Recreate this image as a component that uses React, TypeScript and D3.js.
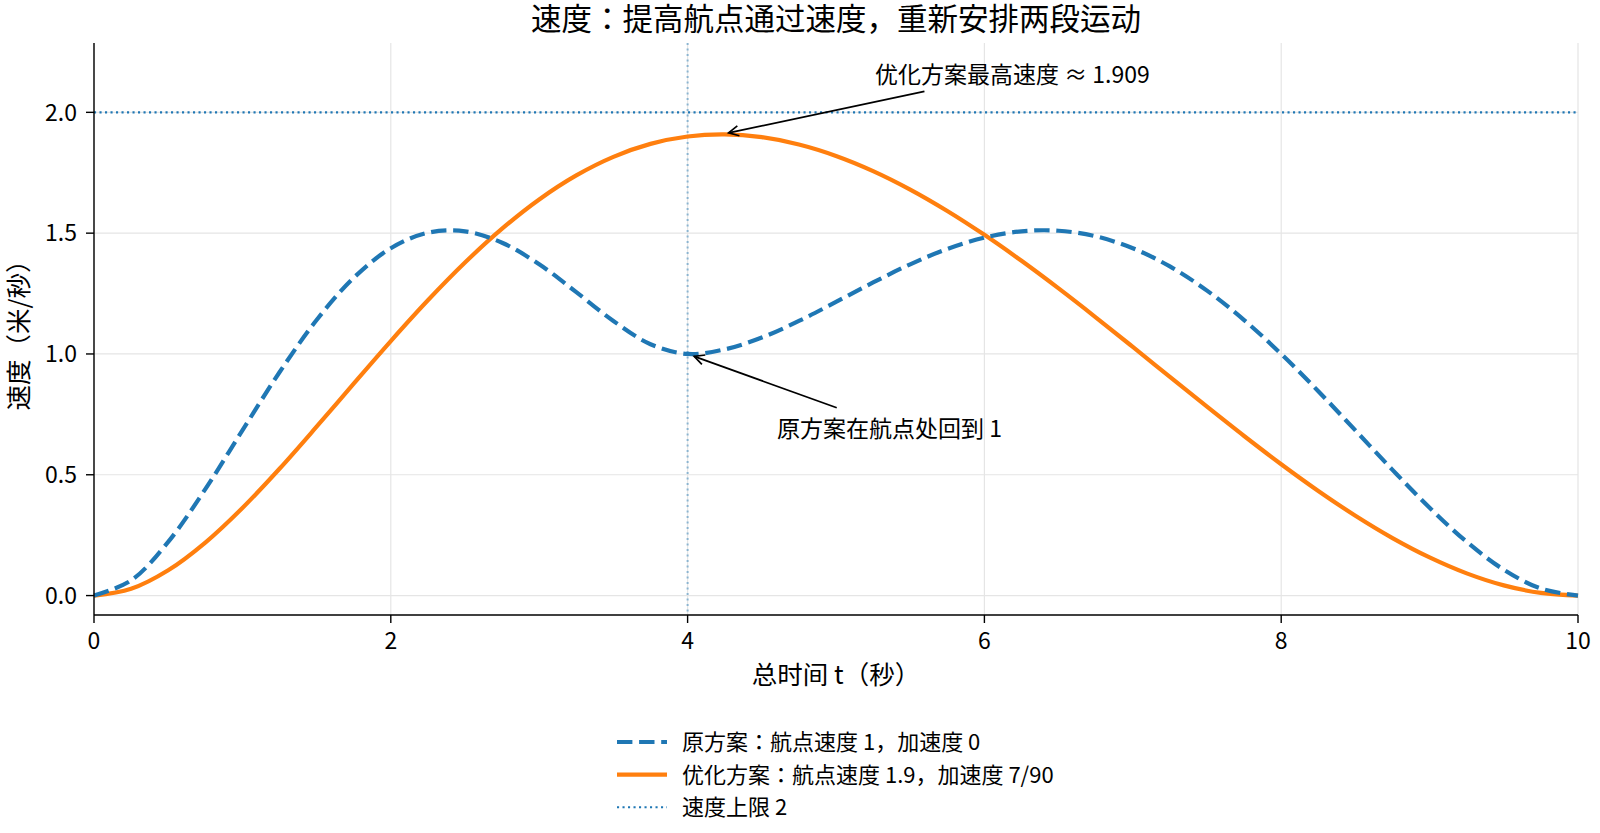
import { useEffect, useRef } from 'react'
import * as d3 from 'd3'

// sample times (s)
const times = [
  0, 0.25, 0.5, 0.75, 1, 1.25, 1.5, 1.75, 2, 2.25, 2.5, 2.75, 3, 3.25, 3.5, 3.75, 4,
  4.25, 4.5, 4.75, 5, 5.25, 5.5, 5.75, 6, 6.25, 6.5, 6.75, 7, 7.25, 7.5, 7.75, 8,
  8.25, 8.5, 8.75, 9, 9.25, 9.5, 9.75, 10,
]

// original plan: waypoint speed 1, accel 0
const originalSpeed = [
  0, 0.0627, 0.2224, 0.4404, 0.6836, 0.9243, 1.1404, 1.3152, 1.4375, 1.5017, 1.5076, 1.4604,
  1.3711, 1.2558, 1.1365, 1.0403, 1.0,
  1.0189, 1.0679, 1.1365, 1.2153, 1.2959, 1.3711, 1.4347, 1.4815, 1.5076, 1.51, 1.4869,
  1.4375, 1.3622, 1.2623, 1.1404, 1.0, 0.8458, 0.6836, 0.5202, 0.3634, 0.2224, 0.1072,
  0.029, 0,
]

// optimized plan: waypoint speed 1.9, accel 7/90
const optimizedSpeed = [
  0, 0.028, 0.1046, 0.2193, 0.3624, 0.5249, 0.699, 0.8773, 1.0535, 1.2221, 1.3784, 1.5185,
  1.6395, 1.739, 1.8158, 1.8694, 1.9,
  1.9088, 1.8972, 1.867, 1.8197, 1.757, 1.6805, 1.5919, 1.493, 1.3855, 1.2712, 1.1518,
  1.0292, 0.9052, 0.7817, 0.6605, 0.5436, 0.433, 0.3305, 0.2381, 0.158, 0.092, 0.0423,
  0.0109, 0,
]

const speedLimit = 2
const waypointTime = 4
const peakTime = 4.23
const peakSpeed = 1.909

const xTicks = [0, 2, 4, 6, 8, 10]
const yTicks = [0, 0.5, 1.0, 1.5, 2.0]

const legendLabels = [
  '原方案：航点速度 1，加速度 0',
  '优化方案：航点速度 1.9，加速度 7/90',
  '速度上限 2',
]

const W = 1600
const H = 833
const FONT = '"Noto Sans CJK JP", "Noto Sans CJK SC", sans-serif'
const BLUE = '#1f77b4'
const ORANGE = '#ff7f0e'
const DASHED = '15.4 6.7'
const DOTTED = '2.1 3.4'

export default function App() {
  const svgRef = useRef<SVGSVGElement>(null)

  useEffect(() => {
    if (!svgRef.current) return
    const svg = d3.select(svgRef.current)
    svg.selectAll('*').remove()

    const left = 94
    const right = 1578
    const top = 43
    const bottom = 615

    const x = d3.scaleLinear().domain([0, 10]).range([left, right])
    const y = d3.scaleLinear().domain([-0.0804, 2.287]).range([bottom, top])

    // grid
    const grid = svg.append('g')
    xTicks.forEach((t) => {
      grid.append('line')
        .attr('x1', x(t)).attr('x2', x(t)).attr('y1', top).attr('y2', bottom)
        .attr('stroke', '#e5e5e5').attr('stroke-width', 1.2)
    })
    yTicks.forEach((t) => {
      grid.append('line')
        .attr('x1', left).attr('x2', right).attr('y1', y(t)).attr('y2', y(t))
        .attr('stroke', '#e5e5e5').attr('stroke-width', 1.2)
    })

    // speed limit
    svg.append('line')
      .attr('x1', left).attr('x2', right)
      .attr('y1', y(speedLimit)).attr('y2', y(speedLimit))
      .attr('stroke', BLUE).attr('stroke-width', 2.1)
      .attr('stroke-dasharray', DOTTED)

    // waypoint marker
    svg.append('line')
      .attr('x1', x(waypointTime)).attr('x2', x(waypointTime))
      .attr('y1', top).attr('y2', bottom)
      .attr('stroke', BLUE).attr('stroke-opacity', 0.45).attr('stroke-width', 2.1)
      .attr('stroke-dasharray', DOTTED)

    const line = d3.line<number>()
      .x((_, i) => x(times[i]))
      .y((d) => y(d))
      .curve(d3.curveCatmullRom)

    svg.append('path')
      .datum(optimizedSpeed)
      .attr('d', line)
      .attr('fill', 'none')
      .attr('stroke', ORANGE)
      .attr('stroke-width', 4.2)

    svg.append('path')
      .datum(originalSpeed)
      .attr('d', line)
      .attr('fill', 'none')
      .attr('stroke', BLUE)
      .attr('stroke-width', 4.2)
      .attr('stroke-dasharray', DASHED)

    // spines
    svg.append('line')
      .attr('x1', left).attr('x2', left).attr('y1', top).attr('y2', bottom)
      .attr('stroke', '#000').attr('stroke-width', 1.4)
    svg.append('line')
      .attr('x1', left).attr('x2', right).attr('y1', bottom).attr('y2', bottom)
      .attr('stroke', '#000').attr('stroke-width', 1.4)

    xTicks.forEach((t) => {
      svg.append('line')
        .attr('x1', x(t)).attr('x2', x(t)).attr('y1', bottom).attr('y2', bottom + 8)
        .attr('stroke', '#000').attr('stroke-width', 1.4)
      svg.append('text')
        .attr('x', x(t)).attr('y', bottom + 34)
        .attr('text-anchor', 'middle')
        .attr('font-size', 23).attr('font-family', FONT)
        .text(String(t))
    })
    yTicks.forEach((t) => {
      svg.append('line')
        .attr('x1', left - 8).attr('x2', left).attr('y1', y(t)).attr('y2', y(t))
        .attr('stroke', '#000').attr('stroke-width', 1.4)
      svg.append('text')
        .attr('x', left - 17).attr('y', y(t))
        .attr('dy', '0.36em')
        .attr('text-anchor', 'end')
        .attr('font-size', 23).attr('font-family', FONT)
        .text(t.toFixed(1))
    })

    // axis labels and title
    svg.append('text')
      .attr('x', (left + right) / 2).attr('y', 684)
      .attr('text-anchor', 'middle')
      .attr('font-size', 25.5).attr('font-family', FONT)
      .text('总时间 t（秒）')
    svg.append('text')
      .attr('transform', `translate(28,${(top + bottom) / 2}) rotate(-90)`)
      .attr('text-anchor', 'middle')
      .attr('font-size', 25.5).attr('font-family', FONT)
      .text('速度（米/秒）')
    svg.append('text')
      .attr('x', (left + right) / 2).attr('y', 30)
      .attr('text-anchor', 'middle')
      .attr('font-size', 30.5).attr('font-family', FONT)
      .text('速度：提高航点通过速度，重新安排两段运动')

    // annotations: arrow runs from the text box edge toward the data point
    const annotate = (tx: number, ty: number, px: number, py: number, label: string) => {
      const txt = svg.append('text')
        .attr('x', tx).attr('y', ty)
        .attr('dy', '0.36em')
        .attr('font-size', 23).attr('font-family', FONT)
        .text(label)
      const box = (txt.node() as SVGTextElement).getBBox()
      const cx = box.x + box.width / 2
      const cy = box.y + box.height / 2
      const ex = x(px)
      const ey = y(py)
      const dx = ex - cx
      const dy = ey - cy
      const halfW = box.width / 2 + 3
      const halfH = box.height / 2 + 1
      const s = Math.min(halfW / Math.abs(dx || 1e-9), halfH / Math.abs(dy || 1e-9))
      const len = Math.hypot(dx, dy)
      const ux = dx / len
      const uy = dy / len
      const sx = cx + dx * s + ux * 3
      const sy = cy + dy * s + uy * 3
      const tipX = ex - ux * 7
      const tipY = ey - uy * 7
      svg.append('line')
        .attr('x1', sx).attr('y1', sy).attr('x2', tipX).attr('y2', tipY)
        .attr('stroke', '#000').attr('stroke-width', 1.7)
      const hl = 10
      const hw = 5
      const bx = tipX - ux * hl
      const by = tipY - uy * hl
      svg.append('path')
        .attr('d', `M${bx - uy * hw},${by + ux * hw} L${tipX},${tipY} L${bx + uy * hw},${by - ux * hw}`)
        .attr('fill', 'none').attr('stroke', '#000').attr('stroke-width', 1.7)
    }
    annotate(875, 74.5, peakTime, peakSpeed, `优化方案最高速度 ≈ ${peakSpeed.toFixed(3)}`)
    annotate(777, 428.5, waypointTime, 1.0, '原方案在航点处回到 1')

    // legend
    const styles = [
      { color: BLUE, dash: DASHED, width: 4.2 },
      { color: ORANGE, dash: null, width: 4.2 },
      { color: BLUE, dash: DOTTED, width: 2.1 },
    ]
    const legend = svg.append('g')
    legendLabels.forEach((label, i) => {
      const ly = 742 + i * 32.6
      const st = styles[i]
      legend.append('line')
        .attr('x1', 617).attr('x2', 667).attr('y1', ly).attr('y2', ly)
        .attr('stroke', st.color).attr('stroke-width', st.width)
        .attr('stroke-dasharray', st.dash)
      legend.append('text')
        .attr('x', 682).attr('y', ly)
        .attr('dy', '0.36em')
        .attr('font-size', 22).attr('font-family', FONT)
        .text(label)
    })
  }, [])

  return (
    <svg
      ref={svgRef}
      width={W}
      height={H}
      style={{ display: 'block', position: 'absolute', left: 0, top: 0, background: '#fff' }}
    />
  )
}
